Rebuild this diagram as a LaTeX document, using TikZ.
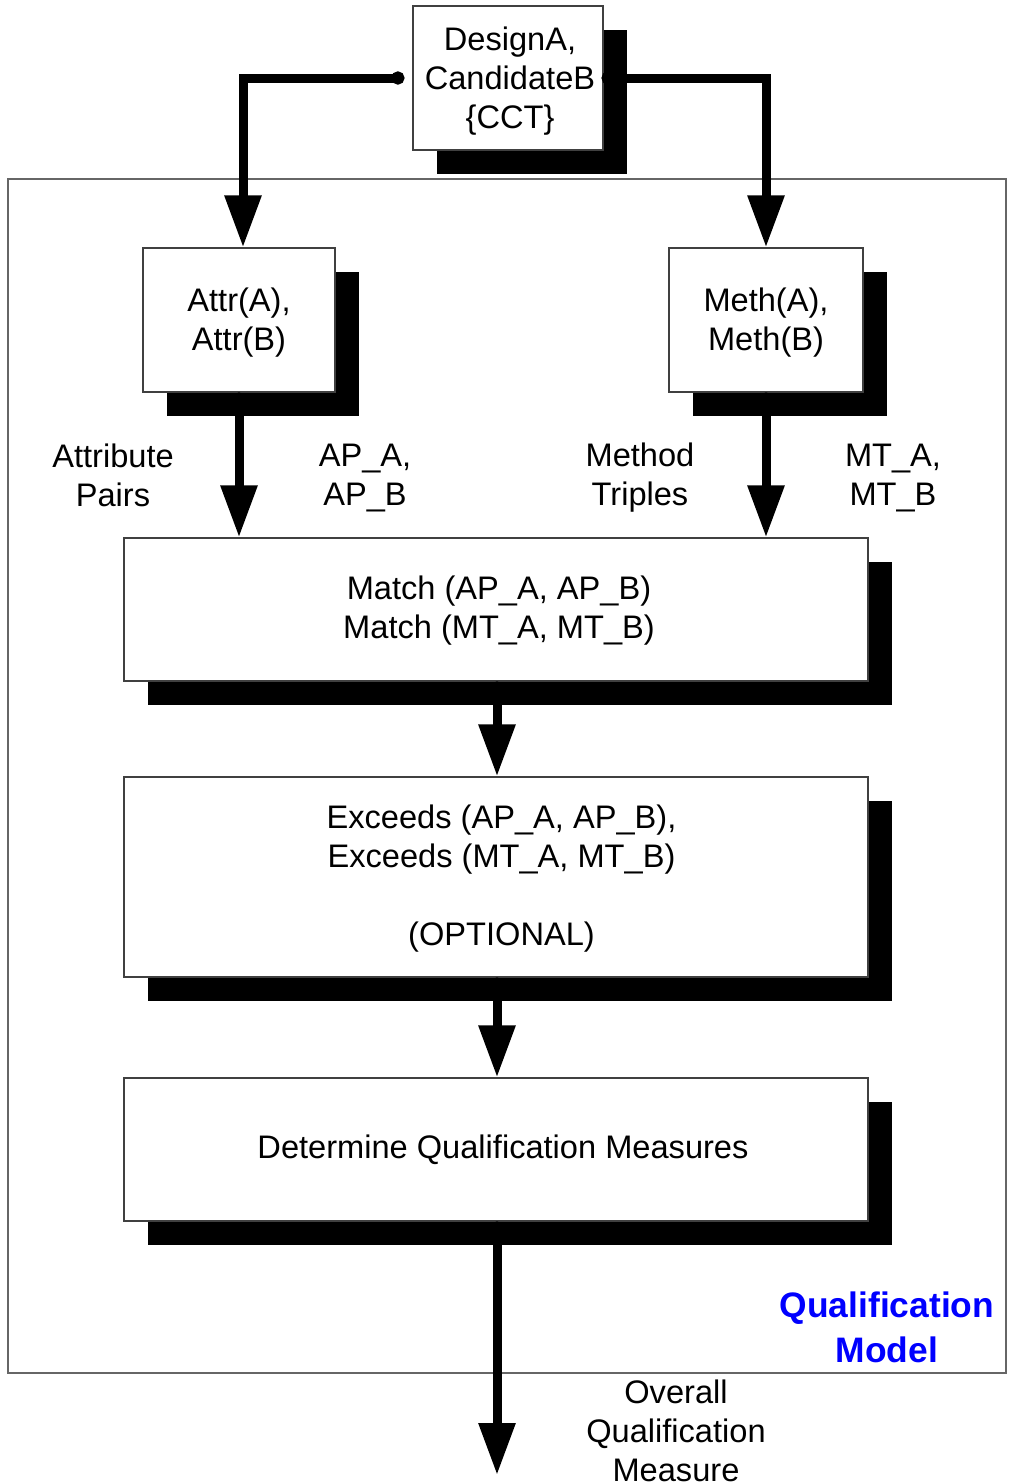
\documentclass[tikz,border=0pt]{standalone}
\usepackage{fontspec}
\setmainfont{Liberation Sans}
\usetikzlibrary{arrows.meta,shadows,calc}
\begin{document}
\begin{tikzpicture}[x=0.5pt,y=-0.5pt,
  every node/.style={inner sep=0pt, align=center, font=\fontsize{16.3}{19.5}\selectfont},
  box/.style={draw=black!75, line width=0.6pt, fill=white,
    drop shadow={fill=black, opacity=1, shadow xshift=12pt, shadow yshift=-12pt}},
  flow/.style={line width=4.5pt, {Circle[length=6.5pt]}-{Triangle[length=26pt,width=17.5pt]}},
  label/.style={},
  modeltitle/.style={font=\fontsize{17.7}{22.5}\selectfont\bfseries, text=blue}
]
\useasboundingbox (0,0) rectangle (1008,1483);

% model frame
\draw[black!60, line width=0.6pt] (8,179) rectangle (1006,1373);

% process boxes
\node[box, minimum width=95pt, minimum height=72pt] (top) at (508,78) {};
\node[box, minimum width=96pt, minimum height=72pt] (attr) at (239,320) {};
\node[box, minimum width=97pt, minimum height=72pt] (meth) at (766,320) {};
\node[box, minimum width=372pt, minimum height=71.5pt] (match) at (496,609.5) {};
\node[box, minimum width=372pt, minimum height=100pt] (exceeds) at (496,877) {};
\node[box, minimum width=372pt, minimum height=71.5pt] (determine) at (496,1149.5) {};

% box texts
\node (toptext) at ([xshift=1pt,yshift=-1.75pt]top.center) {DesignA,\\CandidateB\\\{CCT\}};
\node (attrtext) at ([yshift=-1.25pt]attr.center) {Attr(A),\\Attr(B)};
\node (methtext) at ([yshift=-1.25pt]meth.center) {Meth(A),\\Meth(B)};
\node (matchtext) at ([xshift=1.5pt,yshift=-0.75pt]match.center) {Match (AP\_A, AP\_B)\\Match (MT\_A, MT\_B)};
\node (exceedstext) at ([xshift=2.75pt,yshift=-1pt]exceeds.center) {Exceeds (AP\_A, AP\_B),\\Exceeds (MT\_A, MT\_B)\\[19.5pt](OPTIONAL)};
\node (determinetext) at ([xshift=3.5pt]determine.center) {Determine Qualification Measures};

\coordinate (outend) at (497,1475);

% connectors
\draw[flow] ([xshift=-4pt]top.west) -| ([xshift=2pt]attr.north);
\draw[flow] ([xshift=-1pt]top.east) -| (meth.north);
\draw[flow] (attr.south) -- (attr.south |- match.north);
\draw[flow] (meth.south) -- (meth.south |- match.north);
\draw[flow] ([xshift=0.5pt]match.south) -- ([xshift=0.5pt]exceeds.north);
\draw[flow] ([xshift=0.5pt]exceeds.south) -- ([xshift=0.5pt]determine.north);
\draw[flow] ([xshift=0.5pt]determine.south) -- (outend);

% connector labels
\node[label] (lattr) at (113,475) {Attribute\\Pairs};
\node[label] (lap) at (365,478) {AP\_A,\\AP\_B};
\node[label] (lmeth) at (640,478) {Method\\Triples};
\node[label] (lmt) at (893,478) {MT\_A,\\MT\_B};
\node[label] (lout) at (676,1431) {Overall\\Qualification\\Measure};
\node[modeltitle] (model) at (887,1327) {Qualification\\Model};
\end{tikzpicture}
\end{document}
